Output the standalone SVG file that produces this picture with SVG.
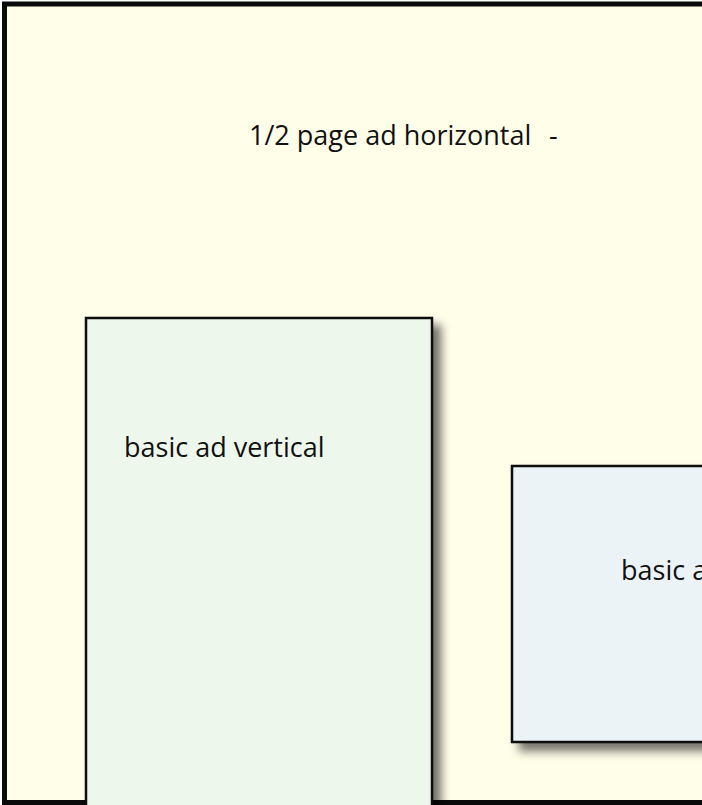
<svg xmlns="http://www.w3.org/2000/svg" width="702" height="805" viewBox="0 0 702 805">
<style>
.box{stroke:#0a0a0a;stroke-width:2.5}
.lbl{font-family:"Open Sans","Noto Sans",sans-serif;font-size:27px;fill:#111}
</style>
<defs>
<filter id="sh" x="-10%" y="-10%" width="130%" height="130%">
<feDropShadow dx="8" dy="8" stdDeviation="5" flood-color="#000" flood-opacity="0.55"/>
</filter>
</defs>
<rect width="702" height="805" fill="#fff"/>
<g id="half-page">
<rect x="4.5" y="4" width="710" height="798.5" fill="#FFFEE9" stroke="#0a0a0a" stroke-width="5"/>
<text class="lbl" x="249" y="145">1/2 page ad horizontal<tspan x="549">-</tspan></text>
</g>
<g id="basic-vertical">
<rect class="box" x="86" y="318" width="346" height="500" fill="#EEF7EC" filter="url(#sh)"/>
<text class="lbl" x="124" y="457">basic ad vertical</text>
</g>
<g id="basic-horizontal">
<rect class="box" x="512" y="466" width="260" height="276" fill="#EBF3F7" filter="url(#sh)"/>
<text class="lbl" x="621" y="580">basic ad horizontal</text>
</g>
<g id="connectors"/>
</svg>
